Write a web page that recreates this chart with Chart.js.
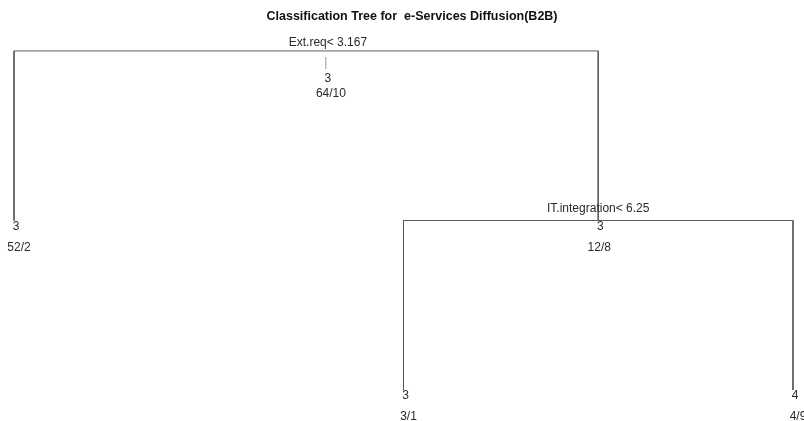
<!DOCTYPE html>
<html>
<head>
<meta charset="utf-8">
<script src="https://cdn.jsdelivr.net/npm/chart.js@4"></script>
<style>
  html, body { margin: 0; padding: 0; background: #fff; }
  #wrap { width: 804px; height: 421px; }
</style>
</head>
<body>
<div id="wrap"><canvas id="treeChart" width="804" height="421"></canvas></div>
<script>
// Tree nodes (rpart-style coordinates: x = leaf order, y = 1 - cumulative error drop)
const nodeNames = ['root', 'n2', 'n3', 'n6', 'n7'];
const nodeParent = [-1, 0, 0, 2, 2];
const nodeX = [1.806, 1, 2.5, 2, 3];
const nodeY = [1, 0.5, 0.5, 0, 0];
const splitLabels = ['Ext.req< 3.167', '', 'IT.integration< 6.25', '', ''];
const classLabels = ['3', '3', '3', '3', '4'];
const countLabels = ['64/10', '52/2', '12/8', '3/1', '4/9'];

const LINE = '#5c5c5c';
const TEXT = '#2a2a2a';
const FONT = '12px "Liberation Sans", Arial, sans-serif';

// build branch segments: vertical drop to each child + horizontal bar at parent level
const branches = [];
nodeParent.forEach((p, i) => {
    if (p < 0) return;
    branches.push({
        label: nodeNames[p] + '-' + nodeNames[i],
        data: [
            { x: nodeX[p], y: nodeY[p] },
            { x: nodeX[i], y: nodeY[p] },
            { x: nodeX[i], y: nodeY[i] }
        ],
        showLine: true,
        borderColor: LINE,
        borderWidth: 1,
        pointRadius: 0,
        fill: false,
        clip: false
    });
});

// node labels
const treeLabels = {
    id: 'treeLabels',
    afterDatasetsDraw(chart) {
        const { ctx, scales: { x, y } } = chart;
        ctx.save();
        ctx.font = FONT;
        ctx.fillStyle = TEXT;
        ctx.textAlign = 'center';
        ctx.textBaseline = 'middle';
        nodeNames.forEach((n, i) => {
            const px = x.getPixelForValue(nodeX[i]);
            const py = y.getPixelForValue(nodeY[i]);
            const isRoot = nodeParent[i] < 0;
            const isLeaf = !nodeParent.includes(i);
            if (splitLabels[i]) {
                ctx.fillText(splitLabels[i], px, py - (isRoot ? 8 : 12));
            }
            if (isRoot) {
                ctx.fillStyle = '#999';
                ctx.fillText('|', px - 2, py + 12);
                ctx.fillStyle = TEXT;
                ctx.fillText(classLabels[i], px, py + 28);
                ctx.fillText(countLabels[i], px + 3, py + 43);
            } else {
                ctx.fillText(classLabels[i], px + 2, py + 6);
                ctx.fillText(countLabels[i], px + (isLeaf ? 5 : 1), py + 27);
            }
        });
        ctx.restore();
    }
};

new Chart(document.getElementById('treeChart').getContext('2d'), {
    type: 'scatter',
    data: { datasets: branches },
    plugins: [treeLabels],
    options: {
        responsive: false,
        animation: false,
        layout: { padding: { left: 20, right: 0, top: 0, bottom: 0 } },
        plugins: {
            legend: { display: false },
            tooltip: { enabled: false },
            title: {
                display: true,
                text: 'Classification Tree for  e-Services Diffusion(B2B)',
                color: '#111',
                font: { family: '"Liberation Sans", Arial, sans-serif', size: 12.5, weight: 'bold' },
                padding: { top: 9, bottom: 0 }
            }
        },
        scales: {
            x: { type: 'linear', display: false, min: 1.0154, max: 3.0283 },
            y: { type: 'linear', display: false, min: -0.0912, max: 1.0794 }
        }
    }
});
</script>
</body>
</html>
